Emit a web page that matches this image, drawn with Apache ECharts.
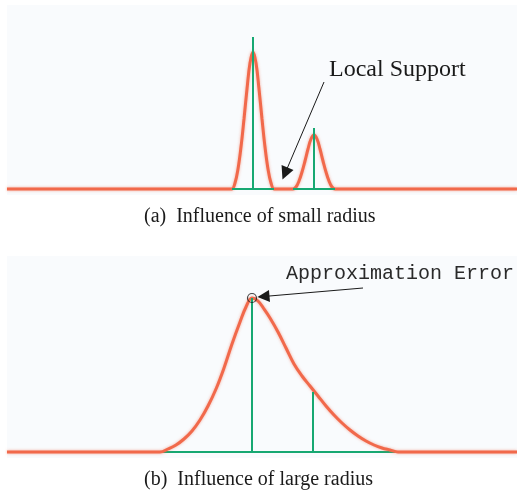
<!DOCTYPE html>
<html>
<head>
<meta charset="utf-8">
<script src="https://cdn.jsdelivr.net/npm/echarts@6/dist/echarts.min.js"></script>
<style>
html,body{margin:0;padding:0;background:#fff;}
#c{width:517px;height:491px;}
</style>
</head>
<body>
<div id="c"></div>
<script>
// ---- data (x in horizontal units, y = height above baseline) ----
// Panel (a): small radius
var topCurveX = [7, 226, 229, 232, 235, 238, 241, 244, 247, 250, 253, 256, 259, 262, 265, 268, 271, 274, 277, 290, 293, 296, 299, 302, 305, 308, 311, 314, 317, 320, 323, 326, 329, 332, 335, 338, 517];
var topCurveY = [0, 0, 0, 0, 6, 20, 42, 70, 100, 126, 137, 126, 100, 70, 42, 20, 6, 0, 0, 0, 0, 2, 8, 17, 28, 40, 50, 54, 50, 40, 28, 17, 8, 2, 0, 0, 0];
var topCentersX = [253, 314];
var topStemHeights = [152, 61];
var topSupportStart = [232, 293];
var topSupportEnd = [274, 335];

// Panel (b): large radius
var botCurveX = [7, 144, 152, 160, 168, 176, 184, 192, 200, 208, 216, 224, 232, 240, 246, 252, 258, 264, 270, 278, 286, 294, 302, 310, 318, 326, 334, 342, 350, 358, 366, 374, 382, 390, 398, 406, 517];
var botCurveY = [0, 0, 0, 0, 3, 7, 13, 21, 32, 46, 63, 84, 108, 130, 145, 154, 151, 143, 134, 120, 104, 88, 76, 66, 56, 46, 37, 29, 22, 16, 11, 7, 4, 2, 0, 0, 0];
var botCentersX = [252, 313];
var botStemHeights = [154, 60];
var botSupportStart = [143];
var botSupportEnd = [422];
var errorPoint = [252, 154];

var captions = ['(a)  Influence of small radius', '(b)  Influence of large radius'];
var labelLocal = 'Local Support';
var labelError = 'Approximation Error';

// ---- styling ----
var ORANGE = '#f1694b';
var GREEN = '#17a872';
var PANEL = '#f9fbfd';

function zip(xs, ys) { return xs.map(function (x, i) { return [x, ys[i]]; }); }

function orangeSeries(xi, data) {
  return {
    type: 'line', xAxisIndex: xi, yAxisIndex: xi, data: data,
    showSymbol: false, smooth: 0.4, z: 2,
    lineStyle: { color: ORANGE, width: 3, shadowBlur: 3, shadowColor: 'rgba(241,105,75,0.55)' },
    silent: true
  };
}
function greenSeg(xi, data, z) {
  return {
    type: 'line', xAxisIndex: xi, yAxisIndex: xi, data: data,
    showSymbol: false, z: z || 3,
    lineStyle: { color: GREEN, width: 2 },
    silent: true
  };
}

var series = [];
series.push(orangeSeries(0, zip(topCurveX, topCurveY)));
topSupportStart.forEach(function (s, i) { series.push(greenSeg(0, [[s, 0], [topSupportEnd[i], 0]])); });
topCentersX.forEach(function (x, i) { series.push(greenSeg(0, [[x, 0], [x, topStemHeights[i]]])); });

series.push(orangeSeries(1, zip(botCurveX, botCurveY)));
botSupportStart.forEach(function (s, i) { series.push(greenSeg(1, [[s, 0], [botSupportEnd[i], 0]], 1)); });
botCentersX.forEach(function (x, i) { series.push(greenSeg(1, [[x, 0], [x, botStemHeights[i]]])); });

// annotation arrows
series.push({
  type: 'scatter', xAxisIndex: 0, yAxisIndex: 0, data: [], z: 5,
  markLine: {
    silent: true, symbol: ['none', 'triangle'], symbolSize: 13,
    lineStyle: { color: '#1a1a1a', width: 1, type: 'solid' },
    label: { show: false },
    data: [[{ coord: [324, 107] }, { coord: [285, 15.5] }]]
  }
});
series.push({
  type: 'scatter', xAxisIndex: 1, yAxisIndex: 1, data: [errorPoint], z: 6,
  symbol: 'circle', symbolSize: 9,
  itemStyle: { color: 'rgba(0,0,0,0)', borderColor: '#1a1a1a', borderWidth: 1.2 },
  markLine: {
    silent: true, symbol: ['none', 'triangle'], symbolSize: 12,
    lineStyle: { color: '#1a1a1a', width: 1, type: 'solid' },
    label: { show: false },
    data: [[{ coord: [363, 164] }, { coord: [263.5, 155.5] }]]
  }
});

var option = {
  animation: false,
  backgroundColor: '#ffffff',
  grid: [
    { left: 7, right: 0, top: 5, bottom: 296, show: true, backgroundColor: PANEL, borderWidth: 0 },
    { left: 7, right: 0, top: 256, bottom: 33, show: true, backgroundColor: PANEL, borderWidth: 0 }
  ],
  xAxis: [
    { type: 'value', gridIndex: 0, min: 7, max: 517, show: false },
    { type: 'value', gridIndex: 1, min: 7, max: 517, show: false }
  ],
  yAxis: [
    { type: 'value', gridIndex: 0, min: -6, max: 184, show: false },
    { type: 'value', gridIndex: 1, min: -6, max: 196, show: false }
  ],
  graphic: [
    { type: 'text', left: 144, top: 207, style: { text: captions[0], font: '20px "Liberation Serif"', fill: '#1a1a1a' } },
    { type: 'text', left: 144, top: 470, style: { text: captions[1], font: '20px "Liberation Serif"', fill: '#1a1a1a' } },
    { type: 'text', left: 329, top: 58, style: { text: labelLocal, font: '24px "Liberation Serif"', fill: '#1a1a1a' } },
    { type: 'text', left: 286, top: 264, style: { text: labelError, font: '20px "Liberation Mono"', fill: '#2a2a2a' } }
  ],
  series: series
};

var chart = echarts.init(document.getElementById('c'), null, { renderer: 'canvas' });
chart.setOption(option);
</script>
</body>
</html>
